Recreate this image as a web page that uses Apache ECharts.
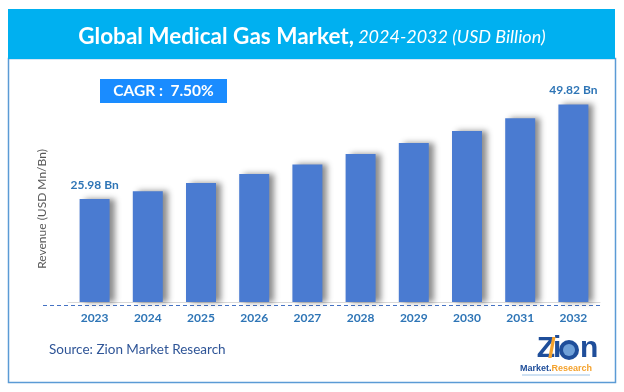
<!DOCTYPE html>
<html><head><meta charset="utf-8">
<script src="https://cdn.jsdelivr.net/npm/echarts@6/dist/echarts.min.js"></script>
<style>html,body{margin:0;padding:0;background:#fff}#c{width:624px;height:392px}</style>
</head><body><div id="c"></div>
<script>
const years = ['2023','2024','2025','2026','2027','2028','2029','2030','2031','2032'];
const revenue = [25.98, 27.93, 30.02, 32.27, 34.69, 37.30, 40.09, 43.10, 46.33, 49.82];
const labeledYears = ['2023','2032'];
const titleMain = 'Global Medical Gas Market,';
const titleSub = ' 2024-2032 (USD Billion)';
const cagrText = 'CAGR :  7.50%';
const yName = 'Revenue (USD Mn/Bn)';
const sourceText = 'Source: Zion Market Research';

const FONT = 'Lato, "Open Sans", sans-serif';
const chart = echarts.init(document.getElementById('c'), null, {renderer:'canvas'});
chart.setOption({
  animation:false,
  grid:{left:68, right:24, top:64, bottom:90},
  xAxis:{type:'category', data:years,
    axisLine:{show:true, lineStyle:{color:'#d9d9d9', width:1}},
    axisTick:{show:false},
    axisLabel:{color:'#2E75B6', fontWeight:'bold', fontSize:12, fontFamily:FONT, margin:10}
  },
  yAxis:{type:'value', min:0, max:60, show:false},
  series:[{type:'bar', data:revenue, barWidth:30,
    itemStyle:{color:'#4A7BD1', shadowColor:'rgba(0,0,0,0.45)', shadowBlur:6, shadowOffsetX:5, shadowOffsetY:0},
    label:{show:true, position:'top', distance:8, color:'#2E75B6', fontWeight:'bold', fontSize:12, fontFamily:FONT,
      formatter:p => labeledYears.includes(p.name) ? p.value.toFixed(2)+' Bn' : ''}
  }],
  graphic:[
    {type:'rect', shape:{x:8.5,y:58.5,width:607,height:324}, style:{fill:'none', stroke:'#5B9BD5', lineWidth:1.5}, z:0},
    {type:'rect', shape:{x:8,y:9,width:607,height:50}, style:{fill:'#00B0F0'}, z:1},
    {type:'text', x:312, y:37, style:{
      text:'{a|'+titleMain+'}{b|'+titleSub+'}', align:'center', verticalAlign:'middle',
      rich:{a:{fill:'#fff', fontWeight:'bold', fontSize:22.5, fontFamily:FONT},
            b:{fill:'#fff', fontStyle:'italic', fontSize:18, fontFamily:FONT}}}, z:2},
    {type:'rect', shape:{x:100,y:79,width:127,height:24}, style:{fill:'#1A8CFF'}, z:2},
    {type:'text', x:163.5, y:91, style:{text:cagrText, fill:'#fff', fontWeight:'bold', fontSize:15.5, fontFamily:FONT, align:'center', verticalAlign:'middle'}, z:3},
    {type:'line', shape:{x1:43,y1:305.5,x2:602,y2:305.5}, style:{stroke:'#4472C4', lineWidth:1, lineDash:[4,3]}, z:2},
    {type:'text', x:42, y:209, rotation:Math.PI/2, style:{text:yName, fill:'#595959', fontSize:12, fontFamily:FONT, align:'center', verticalAlign:'middle'}, z:2},
    {type:'text', x:49, y:350, style:{text:sourceText, fill:'#2F5597', fontSize:13.5, fontFamily:FONT, align:'left', verticalAlign:'middle'}, z:2},
    {type:'text', x:555, y:349, style:{text:'Z',  fill:'#1F4E9A', fontWeight:'bold', fontSize:30, fontFamily:'"Liberation Sans Narrow", Arial, sans-serif', align:'right', verticalAlign:'middle'}, z:2},
    {type:'text', x:552, y:349, style:{text:'/', fill:'#F4A22D', fontWeight:'bold', fontSize:28, fontFamily:'Arial, sans-serif', align:'center', verticalAlign:'middle'}, z:3},
    {type:'text', x:553, y:349, style:{text:'i', fill:'#1F4E9A', fontWeight:'bold', fontSize:30, fontFamily:'"Liberation Sans Narrow", Arial, sans-serif', align:'left', verticalAlign:'middle'}, z:2},
    {type:'circle', shape:{cx:569, cy:350, r:10}, style:{fill:'#1F4E9A'}, z:2},
    {type:'circle', shape:{cx:569, cy:350, r:6}, style:{fill:'#6FA0D8'}, z:3},
    {type:'text', x:580, y:349, style:{text:'n', fill:'#1F4E9A', fontWeight:'bold', fontSize:30, fontFamily:'"Liberation Sans Narrow", Arial, sans-serif', align:'left', verticalAlign:'middle'}, z:2},
    {type:'text', x:556, y:369, style:{text:'{m|Market.}{r|Research}', align:'center', verticalAlign:'middle',
      rich:{m:{fill:'#1F4E9A', fontWeight:'bold', fontSize:9, fontFamily:'Arial, sans-serif'},
            r:{fill:'#F4A22D', fontWeight:'bold', fontSize:9, fontFamily:'Arial, sans-serif'}}}, z:2},
    {type:'line', shape:{x1:522,y1:375,x2:590,y2:375}, style:{stroke:'#9DC3E6', lineWidth:1}, z:2}
  ]
});
</script></body></html>
